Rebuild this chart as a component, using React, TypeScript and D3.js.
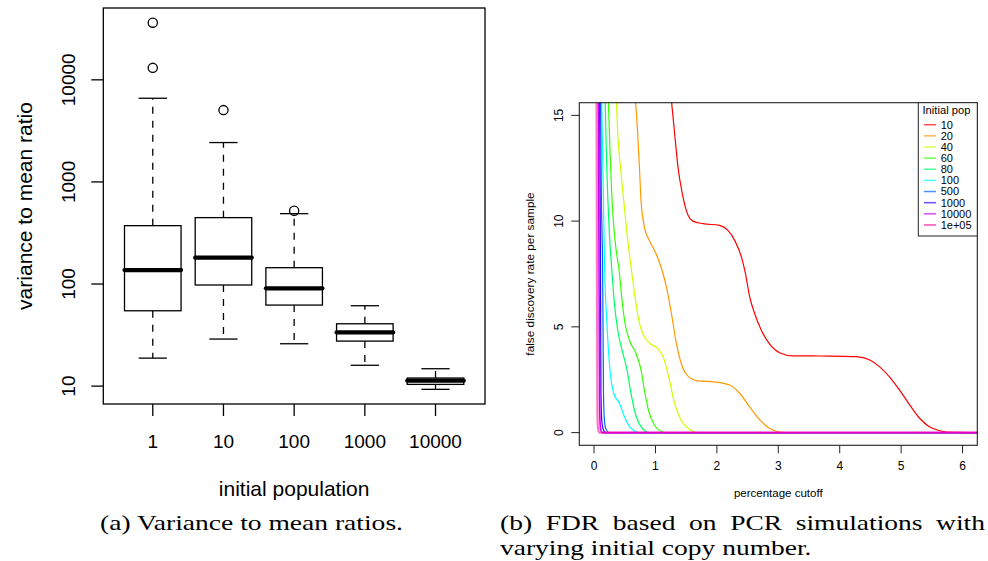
import React, { useMemo } from "react";
import * as d3 from "d3";

const W = 988;
const H = 561;

// ---------- Panel (a): variance to mean ratio boxplots ----------
const categories = ["1", "10", "100", "1000", "10000"];
const whiskerLow = [18.8, 28.9, 26, 16, 9.3];
const q1 = [54.7, 97.8, 62.2, 27.6, 10.4];
const medians = [137, 181, 90.8, 33.6, 11.3];
const q3 = [373, 447, 144.5, 40.8, 12.0];
const whiskerHigh = [6600, 2430, 489, 61.3, 14.8];
const outliers: number[][] = [[36300, 13100], [5050], [523], [], []];
const yTicksA = [10, 100, 1000, 10000];

// ---------- Panel (b): FDR curves ----------
const popLabels = ["10", "20", "40", "60", "80", "100", "500", "1000", "10000", "1e+05"];
const popColors = ["#FF0000", "#FF9900", "#CCFF00", "#33FF00", "#00FF66", "#00FFFF", "#0066FF", "#3300FF", "#CC00FF", "#FF0099"];

const fdr10: [number, number][] = [
  [1.25, 16.0], [1.313, 14.12], [1.367, 12.55], [1.438, 11.29], [1.503, 10.5], [1.61, 10.0],
  [1.774, 9.88], [2.045, 9.8], [2.18, 9.56], [2.29, 9.09], [2.4, 8.3], [2.46, 7.6], [2.534, 6.42],
  [2.615, 5.63], [2.724, 4.84], [2.86, 4.18], [3.02, 3.78], [3.24, 3.63], [3.835, 3.62], [4.27, 3.59],
  [4.49, 3.43], [4.65, 3.11], [4.81, 2.64], [4.975, 2.01], [5.14, 1.31], [5.3, 0.68], [5.46, 0.28],
  [5.63, 0.09], [5.84, 0.01], [6.3, 0],
];
const fdr20: [number, number][] = [
  [0.665, 16.0], [0.711, 14.12], [0.739, 12.55], [0.765, 10.98], [0.82, 9.72], [0.9, 9.09],
  [1.01, 8.46], [1.09, 7.83], [1.125, 7.5], [1.178, 6.89], [1.26, 5.63], [1.34, 4.22], [1.42, 3.27],
  [1.53, 2.67], [1.69, 2.45], [1.99, 2.39], [2.21, 2.25], [2.37, 1.86], [2.53, 1.23], [2.7, 0.6],
  [2.86, 0.19], [3.02, 0.03], [3.2, 0], [6.3, 0],
];
const fdr40: [number, number][] = [
  [0.36, 16.0], [0.386, 14.12], [0.43, 12.55], [0.483, 10.98], [0.537, 9.41], [0.615, 7.55],
  [0.667, 6.42], [0.739, 5.16], [0.82, 4.53], [0.928, 4.18], [1.037, 3.98], [1.134, 3.51],
  [1.227, 2.49], [1.31, 1.39], [1.416, 0.6], [1.55, 0.16], [1.69, 0], [6.3, 0],
];
const fdr60: [number, number][] = [
  [0.23, 16.0], [0.26, 13.33], [0.293, 10.98], [0.342, 9.09], [0.413, 7.55], [0.45, 6.42],
  [0.505, 5.16], [0.576, 4.37], [0.684, 3.74], [0.765, 2.96], [0.82, 2.01], [0.885, 1.07],
  [0.983, 0.36], [1.12, 0.03], [1.2, 0], [6.3, 0],
];
const fdr80: [number, number][] = [
  [0.178, 16.0], [0.207, 12.55], [0.25, 9.41], [0.293, 7.55], [0.332, 6.1], [0.386, 4.84],
  [0.456, 3.9], [0.537, 2.96], [0.592, 2.01], [0.657, 1.07], [0.765, 0.28], [0.9, 0], [6.3, 0],
];
const fdr100: [number, number][] = [
  [0.122, 16.0], [0.153, 10.98], [0.174, 7.55], [0.207, 5.32], [0.25, 3.27], [0.32, 1.86],
  [0.413, 1.39], [0.495, 0.75], [0.6, 0.21], [0.74, 0], [6.3, 0],
];
const fdr500: [number, number][] = [
  [0.105, 16.0], [0.12, 11.0], [0.14, 7.67], [0.153, 2.17], [0.165, 0.75], [0.19, 0.2], [0.25, 0], [6.3, 0],
];
const fdr1000: [number, number][] = [
  [0.09, 16.0], [0.105, 8.0], [0.112, 2.0], [0.125, 0.6], [0.15, 0.15], [0.19, 0], [6.3, 0],
];
const fdr10000: [number, number][] = [
  [0.07, 16.0], [0.085, 5.0], [0.092, 1.0], [0.105, 0.2], [0.13, 0], [6.3, 0],
];
const fdr100000: [number, number][] = [
  [0.04, 16.0], [0.05, 5.0], [0.055, 1.0], [0.065, 0.2], [0.085, 0], [6.3, 0],
];
const fdrSeries = [fdr10, fdr20, fdr40, fdr60, fdr80, fdr100, fdr500, fdr1000, fdr10000, fdr100000];
const xTicksB = [0, 1, 2, 3, 4, 5, 6];
const yTicksB = [0, 5, 10, 15];
const xLimB: [number, number] = [0, 6];
const yLimB: [number, number] = [0, 15];

// ---------- Captions ----------
const captionA = "(a) Variance to mean ratios.";
const captionB1 = "(b) FDR based on PCR simulations with";
const captionB2 = "varying initial copy number.";

const SANS = "'Liberation Sans', Arial, Helvetica, sans-serif";
const SERIF = "'Liberation Serif', 'Times New Roman', serif";

function extend4(lo: number, hi: number): [number, number] {
  const d = (hi - lo) * 0.04;
  return [lo - d, hi + d];
}

export default function App() {
  // panel a frame
  const aL = 103.3, aR = 485, aT = 8, aB = 404;
  const allVals = [...whiskerLow, ...whiskerHigh, ...outliers.flat()];
  const [lmin, lmax] = extend4(Math.log10(d3.min(allVals) as number), Math.log10(d3.max(allVals) as number));
  const yA = d3.scaleLog().domain([10 ** lmin, 10 ** lmax]).range([aB, aT]);
  const [xa0, xa1] = extend4(0.5, categories.length + 0.5);
  const xA = d3.scaleLinear().domain([xa0, xa1]).range([aL, aR]);
  const boxHalf = xA(1.4) - xA(1);
  const stapleHalf = xA(1.2) - xA(1);

  // panel b frame
  const bL = 579.3, bR = 977.3, bT = 102.7, bB = 445.3;
  const xB = d3.scaleLinear().domain(extend4(xLimB[0], xLimB[1])).range([bL, bR]);
  const yB = d3.scaleLinear().domain(extend4(yLimB[0], yLimB[1])).range([bB, bT]);
  const line = d3
    .line<[number, number]>()
    .x((d) => xB(d[0]))
    .y((d) => yB(d[1]))
    .curve(d3.curveMonotoneX);

  // caption measurements
  const cap = useMemo(() => {
    const fs = 22;
    const c = document.createElement("canvas").getContext("2d");
    let wa = 266, wb1 = 360, wb2 = 250;
    if (c) {
      c.font = `${fs}px 'Liberation Serif'`;
      wa = c.measureText(captionA).width;
      wb1 = c.measureText(captionB1).width;
      wb2 = c.measureText(captionB2).width;
    }
    const k = 303 / wa;
    const targetB1 = 485;
    const spaces = captionB1.split(" ").length - 1;
    const ws = (targetB1 / k - wb1) / spaces;
    return { fs, k, wa, wb1, wb2, ws, targetB1 };
  }, []);

  const legX = 918.3, legY = bT, legW = bR - 918.3, legH = 133.3;
  const legRow0 = 124.7, legStep = 11.14;

  const strokeW = (i: number) => (i === 9 ? 2.2 : i === 8 ? 1.6 : 1.2);
  const strokeOp = (i: number) => (i === 9 ? 0.55 : 1);

  return (
    <svg
      width={W}
      height={H}
      viewBox={`0 0 ${W} ${H}`}
      style={{ position: "absolute", left: 0, top: 0, background: "#fff" }}
    >
      <rect x={0} y={0} width={W} height={H} fill="#fff" />
      <defs>
        <clipPath id="clipB">
          <rect x={bL} y={bT} width={bR - bL} height={bB - bT} />
        </clipPath>
      </defs>

      {/* ---------------- Panel (a) ---------------- */}
      <g>
        {categories.map((c, i) => {
          const cx = xA(i + 1);
          return (
            <g key={c}>
              <line x1={cx} x2={cx} y1={yA(q3[i])} y2={yA(whiskerHigh[i])} stroke="#000" strokeWidth={1.3} strokeDasharray="7,7" />
              <line x1={cx} x2={cx} y1={yA(q1[i])} y2={yA(whiskerLow[i])} stroke="#000" strokeWidth={1.3} strokeDasharray="7,7" />
              <line x1={cx - stapleHalf} x2={cx + stapleHalf} y1={yA(whiskerHigh[i])} y2={yA(whiskerHigh[i])} stroke="#000" strokeWidth={1.3} />
              <line x1={cx - stapleHalf} x2={cx + stapleHalf} y1={yA(whiskerLow[i])} y2={yA(whiskerLow[i])} stroke="#000" strokeWidth={1.3} />
              <rect
                x={cx - boxHalf}
                y={yA(q3[i])}
                width={boxHalf * 2}
                height={yA(q1[i]) - yA(q3[i])}
                fill="#fff"
                stroke="#000"
                strokeWidth={1.3}
              />
              <line x1={cx - boxHalf} x2={cx + boxHalf} y1={yA(medians[i])} y2={yA(medians[i])} stroke="#000" strokeWidth={4.2} strokeLinecap="round" />
              {outliers[i].map((o, j) => (
                <circle key={j} cx={cx} cy={yA(o)} r={4.6} fill="none" stroke="#000" strokeWidth={1.3} />
              ))}
            </g>
          );
        })}
        <rect x={aL} y={aT} width={aR - aL} height={aB - aT} fill="none" stroke="#000" strokeWidth={1.3} />
        {yTicksA.map((t) => (
          <g key={t}>
            <line x1={aL - 12} x2={aL} y1={yA(t)} y2={yA(t)} stroke="#000" strokeWidth={1.3} />
            <text
              transform={`translate(75,${yA(t)}) rotate(-90)`}
              textAnchor="middle"
              fontFamily={SANS}
              fontSize={19}
              fill="#000"
            >
              {t}
            </text>
          </g>
        ))}
        {categories.map((c, i) => (
          <g key={c}>
            <line x1={xA(i + 1)} x2={xA(i + 1)} y1={aB} y2={aB + 12} stroke="#000" strokeWidth={1.3} />
            <text x={xA(i + 1)} y={448} textAnchor="middle" fontFamily={SANS} fontSize={19} fill="#000">
              {c}
            </text>
          </g>
        ))}
        <text x={(aL + aR) / 2} y={496} textAnchor="middle" fontFamily={SANS} fontSize={21} fill="#000">
          initial population
        </text>
        <text
          transform={`translate(31.5,${(aT + aB) / 2}) rotate(-90)`}
          textAnchor="middle"
          fontFamily={SANS}
          fontSize={21}
          fill="#000"
        >
          variance to mean ratio
        </text>
      </g>

      {/* ---------------- Panel (b) ---------------- */}
      <g>
        <g clipPath="url(#clipB)">
          {fdrSeries.map((s, i) => (
            <path
              key={popLabels[i]}
              d={line(s) || ""}
              fill="none"
              stroke={popColors[i]}
              strokeWidth={strokeW(i)}
              strokeOpacity={strokeOp(i)}
            />
          ))}
        </g>
        <rect x={bL} y={bT} width={bR - bL} height={bB - bT} fill="none" stroke="#222" strokeWidth={1.1} />
        {yTicksB.map((t) => (
          <g key={t}>
            <line x1={bL - 8} x2={bL} y1={yB(t)} y2={yB(t)} stroke="#222" strokeWidth={1} />
            <text
              transform={`translate(563,${yB(t)}) rotate(-90)`}
              textAnchor="middle"
              fontFamily={SANS}
              fontSize={12}
              fill="#000"
            >
              {t}
            </text>
          </g>
        ))}
        {xTicksB.map((t) => (
          <g key={t}>
            <line x1={xB(t)} x2={xB(t)} y1={bB} y2={bB + 8} stroke="#222" strokeWidth={1} />
            <text x={xB(t)} y={470} textAnchor="middle" fontFamily={SANS} fontSize={12} fill="#000">
              {t}
            </text>
          </g>
        ))}
        <text x={(bL + bR) / 2} y={497} textAnchor="middle" fontFamily={SANS} fontSize={11.5} fill="#000">
          percentage cutoff
        </text>
        <text
          transform={`translate(534,${(bT + bB) / 2}) rotate(-90)`}
          textAnchor="middle"
          fontFamily={SANS}
          fontSize={11.8}
          fill="#000"
        >
          false discovery rate per sample
        </text>

        {/* legend */}
        <rect x={legX} y={legY} width={legW} height={legH} fill="#fff" stroke="#222" strokeWidth={1} />
        <text x={922.5} y={114} fontFamily={SANS} fontSize={11.2} fill="#000">
          Initial pop
        </text>
        {popLabels.map((lab, i) => {
          const cy = legRow0 + i * legStep;
          return (
            <g key={lab}>
              <line x1={924} x2={936} y1={cy} y2={cy} stroke={popColors[i]} strokeWidth={1.5} strokeOpacity={0.7} />
              <text x={940.7} y={cy + 3.9} fontFamily={SANS} fontSize={11} fill="#000">
                {lab}
              </text>
            </g>
          );
        })}
      </g>

      {/* ---------------- Captions ---------------- */}
      <g fontFamily={SERIF} fontSize={cap.fs} fill="#000">
        <text x={100} y={530} textLength={303} lengthAdjust="spacingAndGlyphs">
          {captionA}
        </text>
        <text
          x={500}
          y={530}
          textLength={cap.targetB1}
          lengthAdjust="spacingAndGlyphs"
          style={{ wordSpacing: `${cap.ws}px` }}
        >
          {captionB1}
        </text>
        <text x={500} y={555} textLength={cap.wb2 * cap.k} lengthAdjust="spacingAndGlyphs">
          {captionB2}
        </text>
      </g>
    </svg>
  );
}
